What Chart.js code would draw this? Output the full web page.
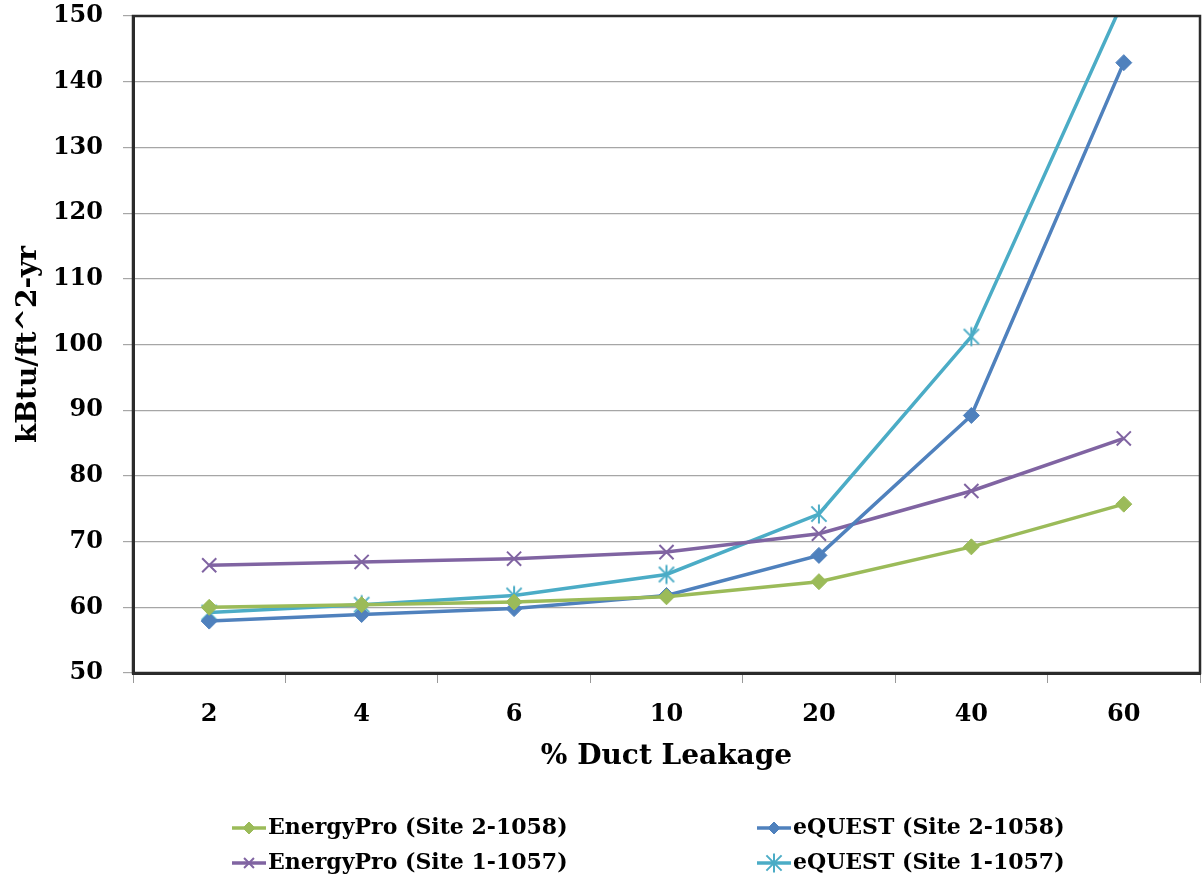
<!DOCTYPE html>
<html lang="en">
<head>
    <meta charset="UTF-8">
    <title>% Duct Leakage</title>
    <script src="https://cdn.jsdelivr.net/npm/chart.js"></script>
    <style>
        body { margin: 0; background: #fff; }
        #wrap { width: 1203px; height: 884px; }
    </style>
</head>
<body>
    <div id="wrap">
        <canvas id="chart" width="1203" height="884"></canvas>
    </div>
    <script>
        // Data
        const categories = ["2", "4", "6", "10", "20", "40", "60"];
        const seriesNames = [
            "EnergyPro (Site 2-1058)",
            "eQUEST (Site 2-1058)",
            "EnergyPro (Site 1-1057)",
            "eQUEST (Site 1-1057)"
        ];
        const energyPro2 = [60.0, 60.4, 60.8, 61.6, 63.9, 69.2, 75.7];
        const equest2 = [57.9, 58.9, 59.8, 61.8, 67.9, 89.2, 142.9];
        const energyPro1 = [66.4, 66.9, 67.4, 68.4, 71.2, 77.7, 85.7];
        const equest1 = [59.2, 60.4, 61.8, 65.0, 74.2, 101.2, 152.5];
        const yTicks = [50, 60, 70, 80, 90, 100, 110, 120, 130, 140, 150];

        const FONT = '"DejaVu Serif", "Liberation Serif", serif';

        // asterisk marker like Excel's (vertical bar + X)
        function makeStar(color, size) {
            const c = document.createElement("canvas");
            c.width = size; c.height = size;
            const g = c.getContext("2d");
            const m = size / 2, r = size / 2 - 1.5;
            g.strokeStyle = color;
            g.lineWidth = 2;
            g.beginPath();
            g.moveTo(m, m - r); g.lineTo(m, m + r);
            const d = r * 0.8;
            g.moveTo(m - d, m - d); g.lineTo(m + d, m + d);
            g.moveTo(m - d, m + d); g.lineTo(m + d, m - d);
            g.stroke();
            return c;
        }

        const colors = ["#9BBB59", "#4F81BD", "#8064A2", "#4BACC6"];
        const values = [energyPro2, equest2, energyPro1, equest1];
        const styles = ["rectRot", "rectRot", "crossRot", makeStar(colors[3], 22)];
        const radii = [8, 8, 10, 10];

        const datasets = values.map((v, i) => ({
            label: seriesNames[i],
            data: v,
            borderColor: colors[i],
            backgroundColor: colors[i],
            borderWidth: 3.5,
            pointStyle: styles[i],
            pointRadius: radii[i],
            pointBorderWidth: i === 2 ? 2 : 1,
            pointHoverRadius: radii[i],
            tension: 0
        }));

        // box round the plot area
        const frame = {
            id: "frame",
            afterDatasetsDraw(chart) {
                const a = chart.chartArea, ctx = chart.ctx;
                ctx.save();
                ctx.strokeStyle = "#2b2b2b";
                ctx.lineWidth = 2.5;
                ctx.strokeRect(a.left, a.top, a.right - a.left, a.bottom - a.top);
                ctx.restore();
            }
        };

        // two-column legend under the axis title
        const legend2 = {
            id: "legend2",
            afterDraw(chart) {
                const ctx = chart.ctx;
                const cols = [232, 757];
                const rows = [828, 863];
                ctx.save();
                ctx.font = "bold 22px " + FONT;
                ctx.textBaseline = "middle";
                ctx.fillStyle = "#000";
                chart.data.datasets.forEach((ds, i) => {
                    const x = cols[i % 2], y = rows[Math.floor(i / 2)];
                    ctx.strokeStyle = ds.borderColor;
                    ctx.lineWidth = 3.5;
                    ctx.beginPath();
                    ctx.moveTo(x, y); ctx.lineTo(x + 34, y);
                    ctx.stroke();
                    ctx.fillStyle = ds.backgroundColor;
                    ctx.lineWidth = ds.pointBorderWidth;
                    Chart.helpers.drawPoint(ctx, { pointStyle: ds.pointStyle, radius: i < 2 ? 6 : 7, rotation: 0, borderWidth: ds.pointBorderWidth }, x + 17, y);
                    ctx.fillStyle = "#000";
                    ctx.fillText(ds.label, x + 36, y);
                });
                ctx.restore();
            }
        };

        // no extra room for overhanging tick labels
        function noPad(s) {
            s.paddingTop = 0; s.paddingBottom = 0;
            s.paddingLeft = 0; s.paddingRight = 0;
        }

        new Chart(document.getElementById("chart"), {
            type: "line",
            data: { labels: categories, datasets: datasets },
            plugins: [frame, legend2],
            options: {
                responsive: false,
                animation: false,
                layout: { autoPadding: false, padding: { top: 16, right: 3, bottom: 101, left: 0 } },
                plugins: {
                    legend: { display: false },
                    tooltip: { enabled: false }
                },
                scales: {
                    x: {
                        offset: true,
                        grid: { offset: true, drawOnChartArea: false, tickLength: 10, color: "#999" },
                        border: { color: "#2b2b2b", width: 3 },
                        ticks: { color: "#000", padding: 17, font: { family: FONT, size: 24, weight: "bold" } },
                        title: {
                            display: true,
                            text: "% Duct Leakage",
                            color: "#000",
                            padding: { top: 10, bottom: 9 },
                            font: { family: FONT, size: 28, weight: "bold" }
                        },
                        afterFit: s => { s.height = 110; noPad(s); }
                    },
                    y: {
                        min: 50,
                        max: 150,
                        afterBuildTicks: s => { s.ticks = yTicks.map(v => ({ value: v })); },
                        grid: { color: "#a6a6a6", lineWidth: 1.2, tickLength: 10 },
                        border: { color: "#2b2b2b", width: 3 },
                        ticks: { color: "#000", padding: 20, font: { family: FONT, size: 24, weight: "bold" } },
                        title: {
                            display: true,
                            text: "kBtu/ft^2-yr",
                            color: "#000",
                            padding: { top: 12, bottom: 0 },
                            font: { family: FONT, size: 28, weight: "bold" }
                        },
                        afterFit: s => { s.width = 133; noPad(s); }
                    }
                }
            }
        });
    </script>
</body>
</html>
